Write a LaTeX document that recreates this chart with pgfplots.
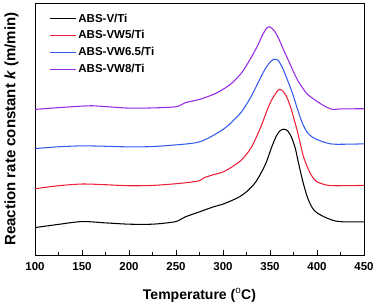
\documentclass[border=0pt]{standalone}
\usepackage{pgfplots}
\pgfplotsset{compat=1.18}
\usepackage{fontspec}
\setmainfont{Liberation Sans}
\definecolor{cRed}{RGB}{240,30,55}
\definecolor{cBlue}{RGB}{50,90,240}
\definecolor{cPurple}{RGB}{150,40,230}
\begin{document}
\begin{tikzpicture}
\useasboundingbox (-35pt,-48pt) rectangle (340pt,255pt);
\begin{axis}[
  scale only axis,
  width=329pt, height=252pt,
  xmin=100, xmax=450, ymin=0, ymax=251,
  xtick={100,150,...,450},
  minor x tick num=1,
  xtick pos=bottom,
  ytick=\empty,
  tick align=inside,
  major tick length=5pt,
  minor tick length=3pt,
  axis line style={line width=0.9pt},
  every tick/.style={line width=0.8pt, black},
  /pgf/number format/assume math mode=true,
  tick label style={font=\fontsize{11.5}{13}\selectfont\bfseries},
  xticklabel style={yshift=-4pt},
  xlabel={Temperature ($^{\mathrm{o}}$C)},
  ylabel={Reaction rate constant \textit{k} (m/min)},
  xlabel style={font=\fontsize{14}{16}\selectfont\bfseries, yshift=-11pt},
  ylabel style={font=\fontsize{15}{17}\selectfont\bfseries, yshift=13pt},
  legend style={draw=none, fill=none, at={(0.04,0.97)}, anchor=north west,
    font=\fontsize{11.5}{13}\selectfont\bfseries, row sep=3pt,
    inner sep=1pt},
  legend cell align=left,
  legend image code/.code={\draw[#1] (0pt,0pt) -- (26pt,0pt);},
  every axis plot/.append style={line width=1.05pt, smooth, tension=0.5},
]
\addplot[black] coordinates {
(100,27.3) (125,30.5) (150,33.3) (175,32) (200,30.7) (225,30.7) (245,32.5) (252,34)
(260,38) (275,43) (290,48) (300,50.7) (315,56.7) (325,63) (335,73) (345,90)
(352,108) (357,119) (361,124) (365,125.3) (369,123.5) (373,117) (377,106) (380,93)
(385,73) (390,57) (395,47) (400,42) (410,37) (420,33.8) (430,33) (450,33)
};
\addlegendentry{ABS-V/Ti}
\addplot[cRed] coordinates {
(100,66) (125,69) (150,70.7) (175,70) (200,69) (225,69.3) (250,71) (265,72.5) (275,74)
(280,77) (290,80) (300,82.7) (310,88) (320,95) (330,107) (340,127) (346,142)
(351,153) (356,161) (360,165) (364,163) (368,157) (372,147) (376,134) (380,120)
(385,100) (390,87) (395,78) (400,73) (410,69.7) (420,69) (450,69.3)
};
\addlegendentry{ABS-VW5/Ti}
\addplot[cBlue] coordinates {
(100,106) (125,107.8) (150,108.7) (175,108.3) (200,107.7) (225,108) (250,109.7)
(265,111) (275,112.7) (285,116.7) (300,125) (310,133) (320,143) (330,158)
(340,176.7) (346,187) (351,193) (355,195) (359,193.5) (363,187) (367,178)
(371,168.5) (375,158) (380,143) (385,130) (390,121.7) (395,117.5) (400,115) (410,111.7) (420,110.3) (450,110.7)
};
\addlegendentry{ABS-VW6.5/Ti}
\addplot[cPurple] coordinates {
(100,145) (125,146.8) (150,148.3) (160,148.7) (180,147.5) (200,146.3) (225,146.5) (250,147.7)
(260,151.7) (275,155) (290,160) (300,165) (310,171.7) (320,181.7) (330,196.7)
(337,209) (342,219) (346,225.5) (349,227.3) (353,225) (357,219.5) (361,212)
(365,203) (370,193) (375,182.5) (380,173) (385,166) (390,160) (400,153) (410,147.3) (417,145) (425,145.5) (450,145.7)
};
\addlegendentry{ABS-VW8/Ti}
\end{axis}
\end{tikzpicture}
\end{document}
